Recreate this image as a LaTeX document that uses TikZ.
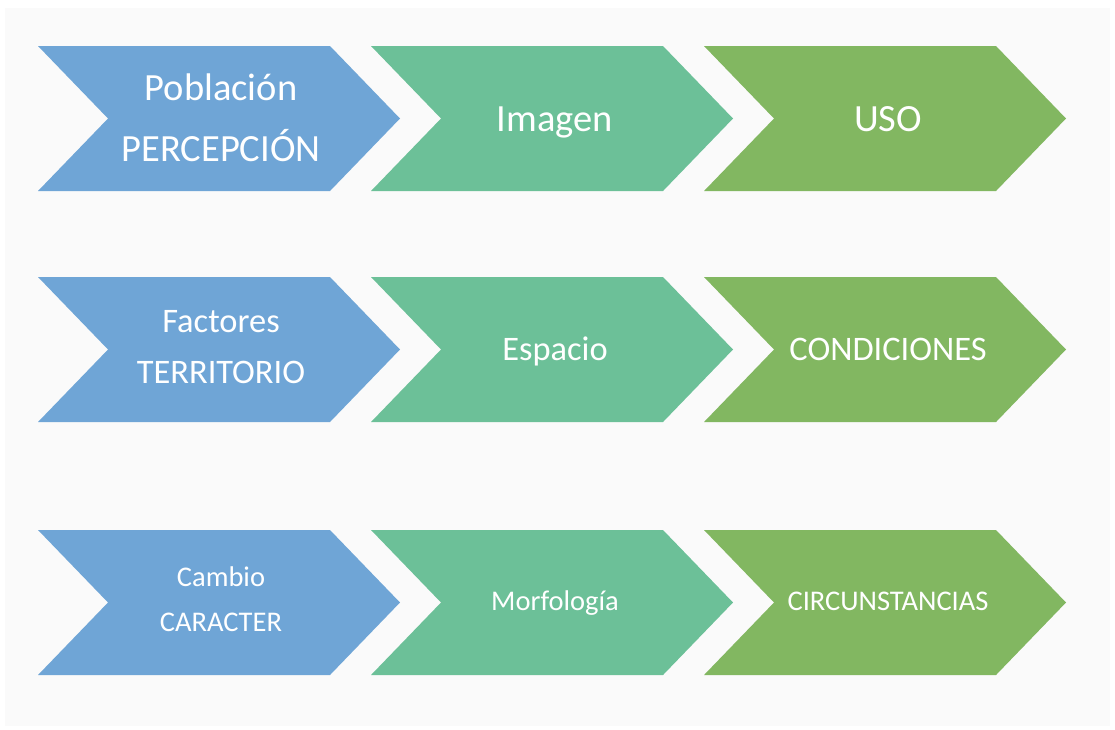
\documentclass[tikz,border=0pt]{standalone}
\usepackage{fontspec}
\setmainfont{Carlito}
\definecolor{cblue}{RGB}{111,165,214}
\definecolor{cteal}{RGB}{108,192,152}
\definecolor{cgreen}{RGB}{130,183,97}
\definecolor{bggray}{RGB}{250,250,250}
\begin{document}
\begin{tikzpicture}[x=1pt,y=-1pt,
  lbl/.style={text=white,align=center,inner sep=0pt,anchor=base},
  big/.style={font=\fontsize{38.5}{61}\selectfont},
  mid/.style={font=\fontsize{34.4}{51}\selectfont},
  small/.style={font=\fontsize{28.5}{45}\selectfont}]
\useasboundingbox (0,0) rectangle (1115,729);
\fill[white] (0,0) rectangle (1115,729);
\fill[bggray] (5,8) rectangle (1110,726);
% chevron: left x, top y, colour
\newcommand\chev[3]{\fill[#3] (#1,#2) -- ++(292,0) -- ++(70,72.5) -- ++(-70,72.5) -- ++(-292,0) -- ++(70,-72.5) -- cycle;}
\foreach \y in {46,277,530}{
  \chev{38}{\y}{cblue}
  \chev{371}{\y}{cteal}
  \chev{704}{\y}{cgreen}
}
% anchor=base of a two-line label is the baseline of its last line
\node[lbl,big] (a1) at (221,161) {Población\\PERCEPCIÓN};
\node[lbl,big] (a2) at (555,131) {Imagen};
\node[lbl,big] (a3) at (888,131) {USO};
\node[lbl,mid] (b1) at (221,383) {Factores\\TERRITORIO};
\node[lbl,mid] (b2) at (555,360) {Espacio};
\node[lbl,mid] (b3) at (888,360) {CONDICIONES};
\node[lbl,small] (c1) at (221,631) {Cambio\\CARACTER};
\node[lbl,small] (c2) at (555,610) {Morfología};
\node[lbl,small] (c3) at (888,610) {CIRCUNSTANCIAS};
\end{tikzpicture}
\end{document}
